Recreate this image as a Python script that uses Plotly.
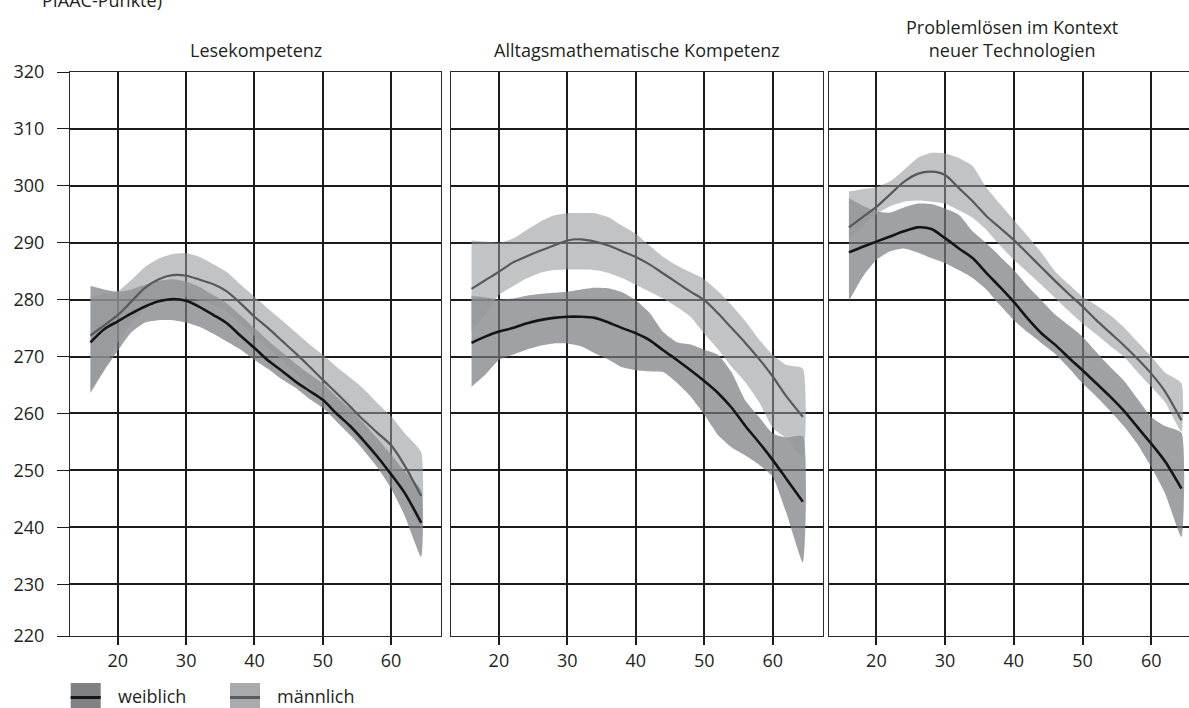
import plotly.graph_objects as go

# ---------------- data ----------------
AGES = [16, 18, 20, 22, 24, 26, 28, 30, 32, 34, 36, 38, 40, 42, 44, 46, 48, 50, 52, 54, 56, 58, 60, 62, 64.4]

PANEL_TITLES = ["Lesekompetenz", "Alltagsmathematische Kompetenz", "Problemlösen im Kontext<br>neuer Technologien"]
LEGEND_LABELS = ["weiblich", "männlich"]
Y_TICKS = [230, 240, 250, 260, 270, 280, 290, 300, 310, 320]
X_TICKS = [20, 30, 40, 50, 60]

# Lesekompetenz
LESE_W = [272.5, 274.8, 276.2, 277.6, 278.8, 279.7, 280.1, 279.8, 278.7, 277.3, 275.8, 273.6, 271.5,
          269.3, 267.5, 265.6, 264.0, 262.4, 260.0, 257.8, 255.2, 252.4, 249.3, 246.0, 240.8]
LESE_W_HI = [282.4, 281.8, 281.4, 281.8, 282.6, 283.3, 283.6, 283.2, 282.2, 280.8, 279.3, 277.2, 275.0,
             272.8, 270.8, 268.8, 267.0, 265.3, 263.0, 260.8, 258.3, 255.6, 252.8, 249.8, 246.5]
LESE_W_LO = [263.6, 267.5, 271.0, 274.3, 276.0, 276.4, 276.4, 276.0, 275.2, 274.0, 272.6, 271.2, 269.4,
             267.8, 266.0, 264.5, 262.6, 261.0, 258.6, 256.2, 253.5, 250.5, 246.8, 242.0, 234.8]
LESE_M = [273.7, 275.5, 277.3, 279.7, 282.1, 283.6, 284.3, 284.2, 283.5, 282.7, 281.4, 279.3, 277.0,
          275.0, 272.8, 270.6, 268.3, 265.9, 263.6, 261.2, 258.8, 256.6, 254.4, 250.8, 245.5]
LESE_M_HI = [280.5, 281.0, 281.5, 283.5, 285.8, 287.2, 288.0, 288.2, 287.5, 286.2, 284.8, 282.6, 280.5,
             278.4, 276.4, 274.3, 272.2, 270.3, 268.2, 266.3, 264.3, 261.8, 259.5, 256.5, 253.2]
LESE_M_LO = [264.0, 268.0, 272.5, 275.8, 278.4, 280.0, 280.6, 280.4, 279.8, 279.0, 277.8, 275.8, 273.6,
             271.5, 269.4, 267.2, 264.8, 262.0, 259.6, 257.0, 254.3, 251.8, 249.0, 245.5, 240.0]

# Alltagsmathematische Kompetenz
MATH_W = [272.4, 273.5, 274.4, 275.0, 275.8, 276.4, 276.8, 277.0, 277.0, 276.8, 276.0, 275.0, 274.1,
          272.9, 271.1, 269.4, 267.6, 265.7, 263.6, 261.0, 257.8, 254.9, 251.8, 248.5, 244.5]
MATH_W_HI = [280.7, 280.4, 280.0, 280.2, 280.7, 281.0, 281.2, 281.4, 281.8, 282.1, 282.0, 281.3, 279.9,
             277.7, 274.3, 272.5, 272.1, 271.2, 270.3, 267.2, 262.3, 259.4, 256.5, 255.8, 256.0]
MATH_W_LO = [264.7, 266.8, 269.4, 270.3, 271.2, 271.9, 272.3, 272.3, 271.8, 270.6, 269.5, 268.1, 267.6,
             267.4, 267.3, 265.4, 263.0, 259.8, 256.2, 254.0, 252.6, 251.0, 248.9, 242.5, 233.8]
MATH_M = [281.9, 283.4, 284.9, 286.5, 287.6, 288.6, 289.5, 290.4, 290.6, 290.2, 289.5, 288.5, 287.5,
          286.2, 284.6, 283.0, 281.4, 279.9, 277.6, 275.0, 272.4, 269.6, 266.5, 263.0, 259.4]
MATH_M_HI = [290.4, 290.2, 290.0, 290.7, 292.2, 293.7, 294.8, 295.2, 295.2, 295.2, 294.5, 293.0, 291.6,
             289.5, 287.5, 286.0, 284.8, 283.6, 281.5, 279.0, 276.2, 273.0, 270.3, 268.5, 267.9]
MATH_M_LO = [274.5, 277.5, 280.8, 282.3, 283.7, 284.7, 285.2, 285.3, 285.3, 285.2, 284.7, 283.8, 282.6,
             281.4, 280.2, 278.7, 277.0, 274.0, 271.3, 268.2, 265.5, 262.0, 257.5, 255.6, 252.5]

# Problemlösen im Kontext neuer Technologien
PROB_W = [288.3, 289.3, 290.2, 291.1, 292.0, 292.7, 292.4, 290.8, 289.0, 287.3, 284.7, 282.2, 279.6,
          276.7, 274.1, 272.1, 269.8, 267.6, 265.3, 263.0, 260.5, 257.6, 254.7, 251.6, 246.8]
PROB_W_HI = [297.8, 296.5, 295.5, 295.3, 296.2, 296.9, 296.8, 296.0, 294.9, 292.0, 289.9, 287.6, 285.2,
             282.4, 279.9, 277.4, 275.5, 273.5, 270.8, 268.2, 265.8, 262.6, 259.4, 257.8, 256.6]
PROB_W_LO = [279.8, 284.0, 287.0, 288.5, 289.0, 288.3, 287.3, 286.4, 285.2, 283.8, 281.8, 279.0, 276.4,
             274.3, 272.4, 270.5, 268.0, 265.3, 263.0, 260.5, 257.8, 254.6, 250.6, 246.0, 238.3]
PROB_M = [292.7, 294.5, 296.3, 298.5, 300.7, 302.1, 302.5, 301.9, 299.6, 297.3, 294.7, 292.6, 290.5,
          288.1, 285.7, 283.3, 281.0, 278.8, 276.4, 274.2, 272.0, 269.6, 267.0, 263.9, 258.8]
PROB_M_HI = [299.0, 299.4, 299.8, 300.8, 302.8, 304.9, 305.8, 305.7, 304.9, 303.5, 299.7, 296.8, 294.0,
             291.2, 288.3, 285.0, 282.7, 280.5, 279.0, 277.3, 275.2, 272.6, 270.0, 267.2, 265.3]
PROB_M_LO = [290.5, 293.0, 295.0, 296.4, 297.2, 297.4, 297.2, 296.9, 295.7, 294.4, 292.3, 289.5, 287.0,
             284.8, 282.6, 280.3, 278.0, 275.8, 273.9, 271.9, 270.0, 267.3, 264.7, 262.0, 256.8]

PANELS = [
    (LESE_W, LESE_W_HI, LESE_W_LO, LESE_M, LESE_M_HI, LESE_M_LO),
    (MATH_W, MATH_W_HI, MATH_W_LO, MATH_M, MATH_M_HI, MATH_M_LO),
    (PROB_W, PROB_W_HI, PROB_W_LO, PROB_M, PROB_M_HI, PROB_M_LO),
]

# ---------------- style ----------------
FONT = "Open Sans, Liberation Sans, Arial, sans-serif"
TXT = "#231f20"
GRID = "#1c1c1c"
W_FILL = "rgba(120,121,125,0.70)"
M_FILL = "rgba(150,151,155,0.58)"
W_LINE = "#151515"
M_LINE = "#58595b"

W, H = 1189, 708
ML, MR, MT, MB = 70, 0, 72, 72
PW, PH = W - ML - MR, H - MT - MB


def px2x(px):
    return (px - ML) / PW


def px2y(py):
    return (H - MB - py) / PH


fig = go.Figure()

suffixes = ["", "2", "3"]
for i, (w, whi, wlo, m, mhi, mlo) in enumerate(PANELS):
    xa, ya = "x" + suffixes[i], "y" + suffixes[i]
    fig.add_trace(go.Scatter(x=AGES + AGES[::-1], y=whi + wlo[::-1], fill="toself",
                             fillcolor=W_FILL, line=dict(width=0, shape="spline", smoothing=0.5),
                             mode="lines", hoverinfo="skip", showlegend=False, xaxis=xa, yaxis=ya))
    fig.add_trace(go.Scatter(x=AGES + AGES[::-1], y=mhi + mlo[::-1], fill="toself",
                             fillcolor=M_FILL, line=dict(width=0, shape="spline", smoothing=0.5),
                             mode="lines", hoverinfo="skip", showlegend=False, xaxis=xa, yaxis=ya))
    fig.add_trace(go.Scatter(x=AGES, y=m, mode="lines", name=LEGEND_LABELS[1],
                             line=dict(color=M_LINE, width=2.2, shape="spline", smoothing=0.8),
                             showlegend=False, xaxis=xa, yaxis=ya))
    fig.add_trace(go.Scatter(x=AGES, y=w, mode="lines", name=LEGEND_LABELS[0],
                             line=dict(color=W_LINE, width=2.6, shape="spline", smoothing=0.8),
                             showlegend=False, xaxis=xa, yaxis=ya))

# panel pixel extents
PANEL_PX = [(70, 441), (451, 822.7), (829, 1189)]
X_RANGES = [[13.0, 67.3], [13.0, 67.3], [13.1, 65.5]]

y_tickvals = [220.9] + Y_TICKS
y_ticktext = ["220"] + [str(v) for v in Y_TICKS]

layout = dict(
    width=W, height=H,
    margin=dict(l=ML, r=MR, t=MT, b=MB, pad=0),
    paper_bgcolor="white", plot_bgcolor="white",
    font=dict(family=FONT, size=18, color=TXT),
    showlegend=False,
)

for i in range(3):
    s = suffixes[i]
    x0, x1 = PANEL_PX[i]
    layout["xaxis" + s] = dict(
        domain=[px2x(x0), min(1.0, px2x(x1))], range=X_RANGES[i], anchor="y" + s,
        tickvals=X_TICKS, ticks="outside", ticklen=8, tickwidth=1.5, tickcolor=GRID,
        showgrid=True, gridcolor=GRID, gridwidth=2, zeroline=False,
        showline=True, linecolor="#2a2a2a", linewidth=1.2, mirror=True,
        tickfont=dict(size=18, color=TXT, family=FONT), fixedrange=True,
    )
    layout["yaxis" + s] = dict(
        domain=[0, 1], range=[220.9, 320], anchor="x" + s,
        tickvals=y_tickvals, ticktext=y_ticktext,
        showgrid=True, gridcolor=GRID, gridwidth=1.5, zeroline=False,
        showline=True, linecolor="#2a2a2a", linewidth=1.2, mirror=(i < 2),
        ticks="outside" if i == 0 else "", ticklen=12, tickwidth=1.2, tickcolor=GRID,
        showticklabels=(i == 0), ticklabelstandoff=9,
        tickfont=dict(size=18, color=TXT, family=FONT), fixedrange=True,
    )

fig.update_layout(**layout)

# panel titles
title_y = [50, 50, 39]
title_x = [255.5, 637, 1012]
for i, t in enumerate(PANEL_TITLES):
    fig.add_annotation(text=t, x=px2x(title_x[i]), y=px2y(title_y[i]), xref="paper", yref="paper",
                       xanchor="center", yanchor="middle", showarrow=False,
                       font=dict(size=18, color=TXT, family=FONT))

# cropped caption at the top (the reference shows only its lower part)
fig.add_annotation(text="PIAAC-Punkte)", x=px2x(40), y=px2y(0), xref="paper", yref="paper",
                   xanchor="left", yanchor="middle", showarrow=False,
                   font=dict(size=18, color=TXT, family=FONT))

# legend (drawn manually)
legend_items = [(70.7, "rgb(128,129,131)", W_LINE, 116, LEGEND_LABELS[0]),
                (230, "rgb(169,170,172)", M_LINE, 275, LEGEND_LABELS[1])]
for bx, boxcol, linecol, tx, label in legend_items:
    fig.add_shape(type="rect", xref="paper", yref="paper",
                  x0=px2x(bx), x1=px2x(bx + 30), y0=px2y(683), y1=px2y(712),
                  fillcolor=boxcol, line=dict(width=0))
    fig.add_shape(type="line", xref="paper", yref="paper",
                  x0=px2x(bx), x1=px2x(bx + 30), y0=px2y(697.5), y1=px2y(697.5),
                  line=dict(color=linecol, width=3))
    fig.add_annotation(text=label, x=px2x(tx), y=px2y(696), xref="paper", yref="paper",
                       xanchor="left", yanchor="middle", showarrow=False,
                       font=dict(size=18, color=TXT, family=FONT))

fig.write_html("out.html", config={"displayModeBar": False},
               post_script="document.body.style.margin='0';document.body.style.overflow='hidden';")
